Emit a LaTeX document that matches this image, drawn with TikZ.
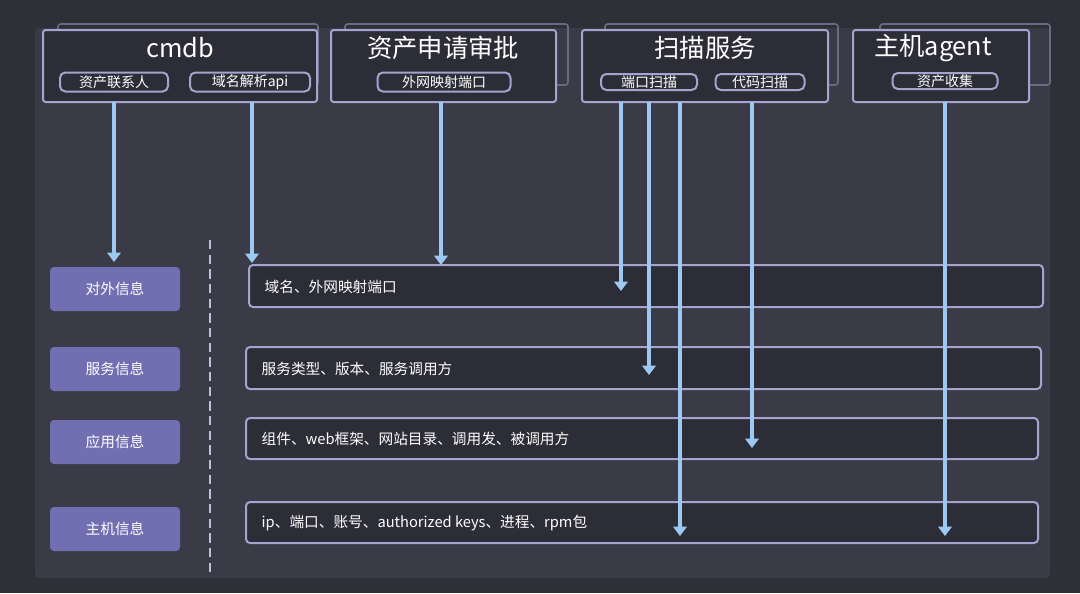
\documentclass[tikz,border=0pt]{standalone}
\usepackage{fontspec}
\setmainfont{Noto Sans CJK SC}
\usetikzlibrary{arrows.meta,positioning}
\definecolor{colorBG}{HTML}{2E2F37}
\definecolor{colorPanel}{HTML}{3A3B46}
\definecolor{colorBox}{HTML}{2C2D36}
\definecolor{colorEdge}{HTML}{A6A3CF}
\definecolor{colorTag}{HTML}{6F6FB2}
\definecolor{colorFlow}{HTML}{9CC9F2}
\tikzset{
   every path/.style={>=stealth},
   ghost/.style={draw=colorEdge!45!colorPanel,line width=1.2pt,rounded corners=2pt},
   sysbox/.style={draw=colorEdge,fill=colorBox,line width=1.5pt,rounded corners=2pt},
   subbox/.style={draw=colorEdge,line width=1.5pt,rounded corners=4pt,text=white,font=\fontsize{10.5}{12}\selectfont,inner sep=0pt},
   title/.style={text=white,font=\fontsize{19}{22}\selectfont},
   tag/.style={fill=colorTag,rounded corners=3pt,text=white,font=\fontsize{11}{13}\selectfont},
   info/.style={draw=colorEdge,fill=colorBox,line width=1.5pt,rounded corners=3pt},
   infotxt/.style={text=white,font=\fontsize{11}{13}\selectfont,anchor=west},
   flow/.style={-{Triangle[width=10pt,length=7pt]},color=colorFlow,line width=3pt},
}
\begin{document}
\begin{tikzpicture}[x=0.75pt,y=-0.75pt]
  \fill[colorBG] (0,0) rectangle (1080,593);
  \useasboundingbox (0,0) rectangle (1080,593);
  \fill[colorPanel,rounded corners=3pt] (35,28) rectangle (1050,578);

  % ghost boxes behind the systems
  \draw[ghost] (58,24) rectangle (318,85);
  \draw[ghost] (345,24) rectangle (568,85);
  \draw[ghost] (605,24) rectangle (838,85);
  \draw[ghost] (880,24) rectangle (1050,85);

  % systems
  \draw[sysbox] (43,30) rectangle (317,102);
  \node[title] (cmdb) at (180,48) {cmdb};
  \node[subbox,minimum width=108*0.75pt,minimum height=19*0.75pt] (contact) at (114,82) {资产联系人};
  \node[subbox,minimum width=120*0.75pt,minimum height=19*0.75pt] (dnsapi) at (250,82) {域名解析api};

  \draw[sysbox] (331,30) rectangle (556,102);
  \node[title] (approve) at (443,48) {资产申请审批};
  \node[subbox,minimum width=133*0.75pt,minimum height=19*0.75pt] (mapport) at (444,82) {外网映射端口};

  \draw[sysbox] (582,30) rectangle (828,102);
  \node[title] (scan) at (705,48) {扫描服务};
  \node[subbox,minimum width=96*0.75pt,minimum height=16*0.75pt] (portscan) at (649,82) {端口扫描};
  \node[subbox,minimum width=89*0.75pt,minimum height=16*0.75pt] (codescan) at (760,82) {代码扫描};

  \draw[sysbox] (853,30) rectangle (1029,102);
  \node[title] (agent) at (933,48) {主机agent};
  \node[subbox,minimum width=105*0.75pt,minimum height=16*0.75pt] (collect) at (945,81) {资产收集};

  % divider
  \draw[colorEdge!70,dashed,line width=1.2pt,dash pattern=on 7pt off 4pt] (210,240) -- (210,576);

  % info rows
  \node[tag,minimum width=130*0.75pt,minimum height=44*0.75pt] (outer) at (115,289) {对外信息};
  \node[tag,minimum width=130*0.75pt,minimum height=44*0.75pt] (service) at (115,369) {服务信息};
  \node[tag,minimum width=130*0.75pt,minimum height=44*0.75pt] (app) at (115,442) {应用信息};
  \node[tag,minimum width=130*0.75pt,minimum height=44*0.75pt] (host) at (115,529) {主机信息};

  \draw[info] (249,265) rectangle (1043,307);
  \node[infotxt] (outertxt) at (260,287) {域名、外网映射端口};
  \draw[info] (246,347) rectangle (1041,389);
  \node[infotxt] (servicetxt) at (257,369) {服务类型、版本、服务调用方};
  \draw[info] (246,418) rectangle (1038,459);
  \node[infotxt] (apptxt) at (257,439) {组件、web框架、网站目录、调用发、被调用方};
  \draw[info] (246,502) rectangle (1038,543);
  \node[infotxt] (hosttxt) at (257,523) {ip、端口、账号、authorized keys、进程、rpm包};

  % flows
  \coordinate (e1) at (114,262);
  \coordinate (e2) at (252,263);
  \coordinate (e3) at (441,265);
  \coordinate (e4) at (621,291);
  \coordinate (e5) at (649,375);
  \coordinate (e6) at (680,536);
  \coordinate (e7) at (752,448);
  \coordinate (e8) at (945,536);
  \draw[flow] (114,102) -- (e1);
  \draw[flow] (252,102) -- (e2);
  \draw[flow] (441,102) -- (e3);
  \draw[flow] (621,102) -- (e4);
  \draw[flow] (649,102) -- (e5);
  \draw[flow] (680,102) -- (e6);
  \draw[flow] (752,102) -- (e7);
  \draw[flow] (945,102) -- (e8);
\end{tikzpicture}
\end{document}
